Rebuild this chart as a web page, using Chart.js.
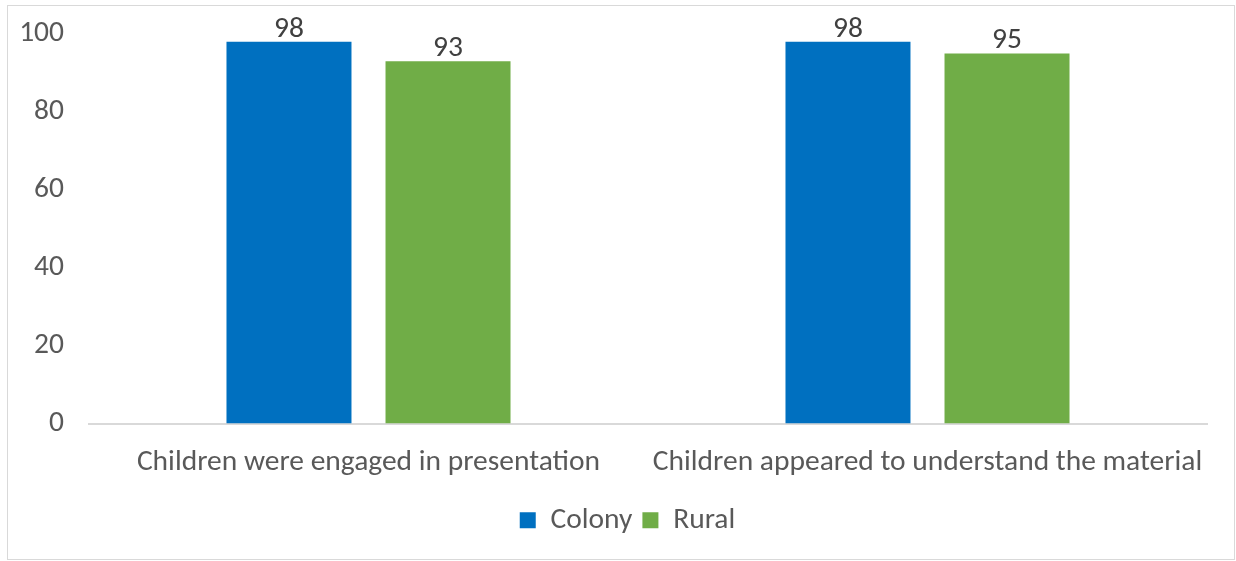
<!DOCTYPE html>
<html>
<head>
<meta charset="utf-8">
<script src="https://cdn.jsdelivr.net/npm/chart.js@4.4.0/dist/chart.umd.min.js"></script>
<style>
  html, body { margin: 0; padding: 0; background: #fff; }
  #frame {
    position: absolute; left: 7px; top: 5px;
    width: 1228px; height: 555px;
    border: 1px solid #d9d9d9; box-sizing: border-box;
  }
  #frame canvas { display: block; }
</style>
</head>
<body>
<div id="frame"><canvas id="chart" width="1226" height="553"></canvas></div>
<script>
// dados do gráfico
const categories = ["Children were engaged in presentation", "Children appeared to understand the material"];
const colonyValues = [98, 98];
const ruralValues = [93, 95];
const seriesNames = ["Colony", "Rural"];

const FONT = "Carlito, 'Open Sans', sans-serif";

// desenha o valor em cima de cada barra
const valueLabels = {
  id: "valueLabels",
  afterDatasetsDraw(chart) {
    const ctx = chart.ctx;
    ctx.save();
    ctx.font = "29.5px " + FONT;
    ctx.fillStyle = "#404040";
    ctx.textAlign = "center";
    ctx.textBaseline = "alphabetic";
    chart.data.datasets.forEach((ds, i) => {
      chart.getDatasetMeta(i).data.forEach((bar, j) => {
        ctx.fillText(ds.data[j], bar.x, bar.y - 5);
      });
    });
    ctx.restore();
  }
};

// empurra a legenda um pouco para a direita (como no original)
const legendShift = {
  id: "legendShift",
  afterLayout(chart) {
    if (chart.legend) {
      chart.legend.left += 20;
      chart.legend.right += 20;
    }
  }
};

new Chart(document.getElementById("chart"), {
  type: "bar",
  data: {
    labels: categories,
    datasets: [
      { label: seriesNames[0], data: colonyValues, backgroundColor: "#0070C0" },
      { label: seriesNames[1], data: ruralValues, backgroundColor: "#70AD47" }
    ]
  },
  options: {
    responsive: false,
    animation: false,
    layout: { padding: { top: 28, right: 27, bottom: 14, left: 0 } },
    datasets: { bar: { categoryPercentage: 0.569, barPercentage: 0.786 } },
    scales: {
      x: {
        grid: { display: false, drawTicks: false },
        border: { display: true, color: "#d9d9d9", width: 2 },
        ticks: { color: "#595959", font: { family: FONT, size: 29.5 }, padding: 21, maxRotation: 0 },
        afterFit(scale) {
          scale.height = 72;
          scale.paddingLeft = 0;
          scale.paddingRight = 0;
        }
      },
      y: {
        min: 0, max: 100,
        grid: { display: false, drawTicks: false },
        border: { display: false },
        ticks: { stepSize: 20, color: "#595959", font: { family: FONT, size: 29.5 }, padding: 25 },
        afterFit(scale) {
          scale.width = 81;
          scale.paddingTop = 0;
          scale.paddingBottom = 0;
        }
      }
    },
    plugins: {
      legend: {
        position: "bottom",
        labels: {
          boxWidth: 16, boxHeight: 16, padding: 10,
          color: "#595959", font: { family: FONT, size: 29.5 }
        }
      },
      tooltip: { enabled: false }
    }
  },
  plugins: [valueLabels, legendShift]
});
</script>
</body>
</html>
